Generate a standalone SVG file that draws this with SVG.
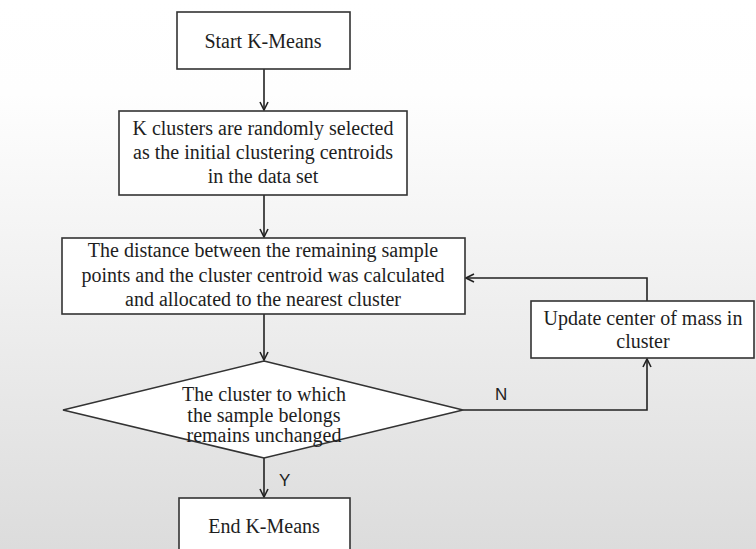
<svg xmlns="http://www.w3.org/2000/svg" width="756" height="549" viewBox="0 0 756 549">
  <defs>
    <linearGradient id="bg" x1="0" y1="0" x2="0" y2="1">
      <stop offset="0" stop-color="#ffffff"/>
      <stop offset="0.17" stop-color="#fefefe"/>
      <stop offset="0.5" stop-color="#f1f1f1"/>
      <stop offset="1" stop-color="#dcdcdc"/>
    </linearGradient>
    <marker id="arr" markerWidth="10" markerHeight="10" refX="9" refY="5" orient="auto" markerUnits="userSpaceOnUse">
      <path d="M1,1 L9,5 L1,9" fill="none" stroke="#222" stroke-width="1.6"/>
    </marker>
    <style>
      .box { fill: #ffffff; stroke: #333333; stroke-width: 1.6; }
      .t { font-family: "Liberation Serif", "Times New Roman", serif; font-size: 20px; fill: #1e1e1e; text-anchor: middle; }
      .lbl { font-family: "Liberation Sans", Arial, sans-serif; font-size: 17px; fill: #222; }
      .c { fill: none; stroke: #222222; stroke-width: 1.6; }
    </style>
  </defs>
  <rect x="0" y="0" width="756" height="549" fill="url(#bg)"/>

  <g id="connectors">
    <line class="c" x1="264" y1="69" x2="264" y2="110" marker-end="url(#arr)"/>
    <line class="c" x1="264" y1="195" x2="264" y2="237" marker-end="url(#arr)"/>
    <line class="c" x1="264" y1="314" x2="264" y2="360" marker-end="url(#arr)"/>
    <line class="c" x1="264" y1="458" x2="264" y2="497" marker-end="url(#arr)"/>
    <polyline class="c" points="463,410 647,410 647,359" marker-end="url(#arr)"/>
    <polyline class="c" points="647,301 647,278 466,278" marker-end="url(#arr)"/>
    <text class="lbl" x="495" y="400">N</text>
    <text class="lbl" x="279" y="486">Y</text>
  </g>

  <g id="start">
    <rect class="box" x="177" y="12" width="173" height="57"/>
    <text class="t" x="263" y="48">Start K-Means</text>
  </g>

  <g id="init">
    <rect class="box" x="119" y="111" width="288" height="84"/>
    <text class="t" x="263" y="135">K clusters are randomly selected</text>
    <text class="t" x="263" y="159">as the initial clustering centroids</text>
    <text class="t" x="263" y="183">in the data set</text>
  </g>

  <g id="assign">
    <rect class="box" x="62" y="238" width="403" height="76"/>
    <text class="t" x="263" y="257">The distance between the remaining sample</text>
    <text class="t" x="263" y="282">points and the cluster centroid was calculated</text>
    <text class="t" x="263" y="306">and allocated to the nearest cluster</text>
  </g>

  <g id="decision">
    <polygon class="box" points="264,361 463,410 264,458 63,410"/>
    <text class="t" x="264" y="401">The cluster to which</text>
    <text class="t" x="264" y="422">the sample belongs</text>
    <text class="t" x="264" y="442">remains unchanged</text>
  </g>

  <g id="update">
    <rect class="box" x="531" y="301" width="223" height="57"/>
    <text class="t" x="643" y="325">Update center of mass in</text>
    <text class="t" x="643" y="348">cluster</text>
  </g>

  <g id="end">
    <rect class="box" x="179" y="498" width="171" height="60"/>
    <text class="t" x="264" y="533">End K-Means</text>
  </g>
</svg>
